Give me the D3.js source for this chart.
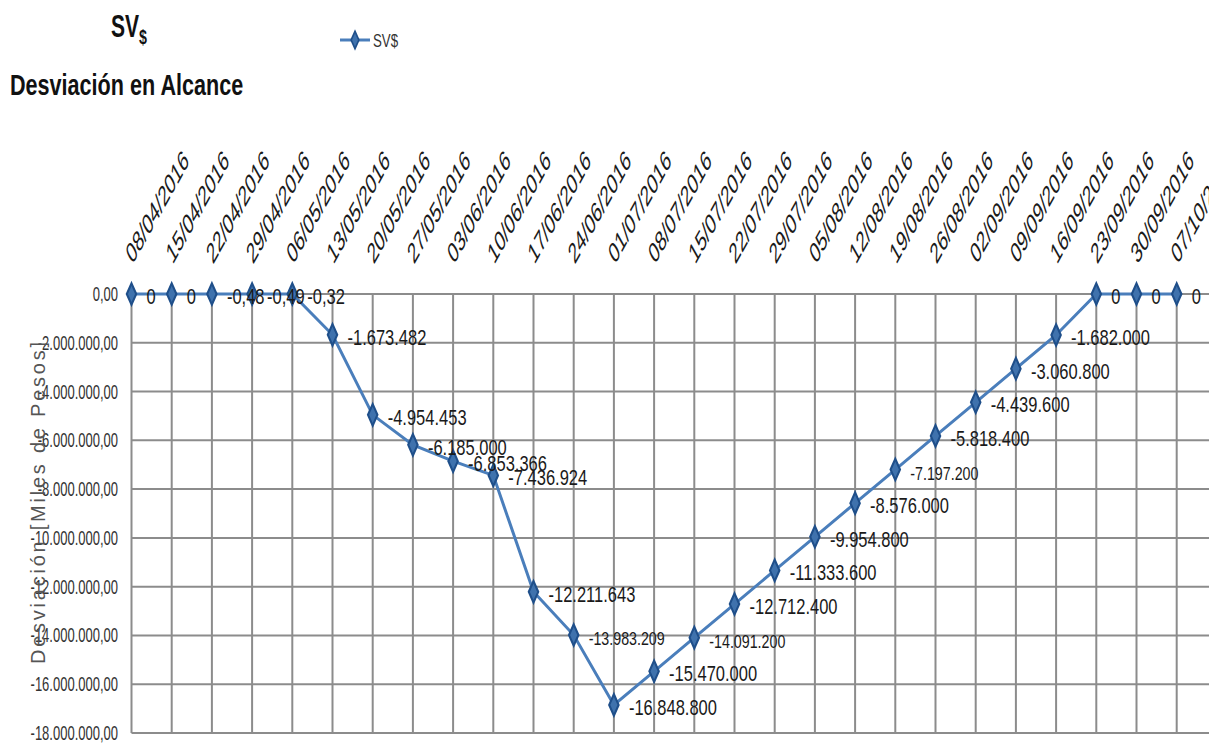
<!DOCTYPE html>
<html>
<head>
<meta charset="utf-8">
<script src="https://cdn.jsdelivr.net/npm/d3@7"></script>
<style>
  body { margin: 0; background: #fff; }
  text { font-family: "Liberation Sans", Arial, sans-serif; }
</style>
</head>
<body>
<div id="chart"></div>
<script>
// weekly cut-off dates (x categories)
var dates = ["08/04/2016","15/04/2016","22/04/2016","29/04/2016","06/05/2016","13/05/2016",
  "20/05/2016","27/05/2016","03/06/2016","10/06/2016","17/06/2016","24/06/2016","01/07/2016",
  "08/07/2016","15/07/2016","22/07/2016","29/07/2016","05/08/2016","12/08/2016","19/08/2016",
  "26/08/2016","02/09/2016","09/09/2016","16/09/2016","23/09/2016","30/09/2016","07/10/2016"];

// SV$ deviation per date
var svValues = [0, 0, -0.48, -0.49, -0.32, -1673482, -4954453, -6185000, -6853366, -7436924,
  -12211643, -13983209, -16848800, -15470000, -14091200, -12712400, -11333600, -9954800,
  -8576000, -7197200, -5818400, -4439600, -3060800, -1682000, 0, 0, 0];

var yTicks = [0, -2000000, -4000000, -6000000, -8000000, -10000000, -12000000,
  -14000000, -16000000, -18000000];

var seriesName = "SV$";

//////////////////////////////////////////////////////////////////////////////
var width = 1209, height = 748;

var svg = d3.select("#chart")
  .append("svg")
    .attr("width", width)
    .attr("height", height);

svg.append("rect").attr("width", width).attr("height", height).attr("fill", "#fff");

// spanish number format
var es = d3.formatLocale({decimal: ",", thousands: ".", grouping: [3], currency: ["$", ""], minus: "-"});
var tickFmt = es.format(",.2f");
var labelFmt = es.format(",.2~f");

var x = d3.scalePoint()
  .domain(dates)
  .range([131.5, 1176.7]);

var y = d3.scaleLinear()
  .domain([-18000000, 0])
  .range([733, 294]);

var lineColor = "#4a7ebb";
var gridColor = "#8c8c8c";

// grid: vertical lines at every category, horizontal at every tick
svg.append("g")
  .selectAll("line")
  .data(dates)
  .enter()
  .append("line")
    .attr("x1", function(d) { return x(d); })
    .attr("x2", function(d) { return x(d); })
    .attr("y1", y(0))
    .attr("y2", y(-18000000))
    .attr("stroke", gridColor)
    .attr("stroke-width", 2);

svg.append("g")
  .selectAll("line")
  .data(yTicks)
  .enter()
  .append("line")
    .attr("x1", x(dates[0]))
    .attr("x2", width + 10)
    .attr("y1", function(d) { return y(d); })
    .attr("y2", function(d) { return y(d); })
    .attr("stroke", gridColor)
    .attr("stroke-width", 2);

// y axis labels (squeezed like the picture)
svg.append("g")
  .selectAll("text")
  .data(yTicks)
  .enter()
  .append("text")
    .attr("transform", function(d) { return "translate(118," + (y(d) + 7) + ") scale(0.65,1)"; })
    .attr("text-anchor", "end")
    .style("font-size", "20px")
    .style("fill", "#333")
    .text(function(d) { return tickFmt(d); });

// y axis title
svg.append("text")
  .attr("transform", "translate(45,503) rotate(-90)")
  .attr("text-anchor", "middle")
  .attr("textLength", 322)
  .attr("lengthAdjust", "spacing")
  .style("font-size", "20px")
  .style("fill", "#555")
  .text("Desviación [Miles de Pesos]");

// x labels on top, rotated
svg.append("g")
  .selectAll("text")
  .data(dates)
  .enter()
  .append("text")
    .attr("transform", function(d) { return "translate(" + (x(d) + 1) + ",265) scale(0.56,1) rotate(-45)"; })
    .attr("text-anchor", "start")
    .style("font-size", "29px")
    .style("fill", "#1a1a1a")
    .text(function(d) { return d; });

// the line
var pts = dates.map(function(d, i) { return {date: d, value: svValues[i], i: i}; });

svg.append("path")
  .datum(pts)
  .attr("d", d3.line()
    .x(function(d) { return x(d.date); })
    .y(function(d) { return y(d.value); }))
  .attr("fill", "none")
  .attr("stroke", lineColor)
  .attr("stroke-width", 3);

// markers
var diamond = d3.symbol().type(d3.symbolDiamond).size(120);
svg.append("g")
  .selectAll("path")
  .data(pts)
  .enter()
  .append("path")
    .attr("d", diamond)
    .attr("transform", function(d) { return "translate(" + x(d.date) + "," + y(d.value) + ") scale(0.8,1.05)"; })
    .attr("fill", "#3f72ad")
    .attr("stroke", "#1f4f8a")
    .attr("stroke-width", 2.5);

// data labels; a few are drawn smaller in the picture
var smallLabels = [11, 14, 19];
svg.append("g")
  .selectAll("text")
  .data(pts)
  .enter()
  .append("text")
    .attr("transform", function(d) {
      return "translate(" + (x(d.date) + 15) + "," + (y(d.value) + 10) + ") scale(0.75,1)";
    })
    .style("font-size", function(d) { return smallLabels.indexOf(d.i) >= 0 ? "19px" : "22px"; })
    .style("fill", "#1a1a1a")
    .text(function(d) { return labelFmt(d.value); });

// titles
var t1 = svg.append("text")
  .attr("transform", "translate(129,37) scale(0.68,1)")
  .attr("text-anchor", "middle")
  .style("font-size", "31px")
  .style("font-weight", "bold")
  .style("fill", "#111");
t1.append("tspan").text("SV");
t1.append("tspan").attr("dy", 7).style("font-size", "21px").text("$");

svg.append("text")
  .attr("transform", "translate(10,95) scale(0.72,1)")
  .style("font-size", "30px")
  .style("font-weight", "bold")
  .style("fill", "#111")
  .text("Desviación en Alcance");

// legend
var legend = svg.append("g").attr("transform", "translate(340,40)");
legend.append("line")
  .attr("x1", 0).attr("x2", 30)
  .attr("stroke", lineColor)
  .attr("stroke-width", 3);
legend.append("path")
  .attr("d", d3.symbol().type(d3.symbolDiamond).size(80))
  .attr("transform", "translate(15,0) scale(0.8,1.05)")
  .attr("fill", "#3f72ad")
  .attr("stroke", "#1f4f8a")
  .attr("stroke-width", 2);
legend.append("text")
  .attr("transform", "translate(33,7) scale(0.7,1)")
  .style("font-size", "19px")
  .style("fill", "#333")
  .text(seriesName);
</script>
</body>
</html>
